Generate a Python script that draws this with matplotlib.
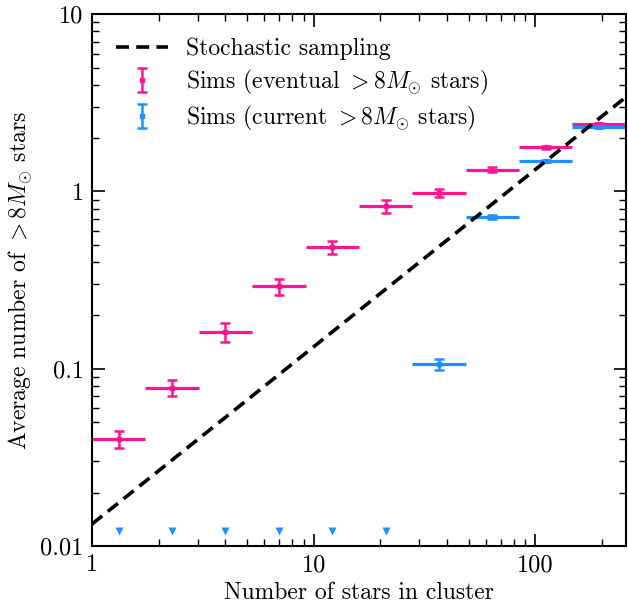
import numpy as np
import matplotlib
matplotlib.use("Agg")
import matplotlib.pyplot as plt
from matplotlib.ticker import FuncFormatter

plt.rcParams["font.family"] = "serif"
plt.rcParams["font.serif"] = ["cmr10", "DejaVu Serif"]
plt.rcParams["mathtext.fontset"] = "cm"
plt.rcParams["axes.formatter.use_mathtext"] = True

# bin edges (log spaced) and values
bin_edges = [1.0, 1.74, 3.03, 5.28, 9.19, 16.0, 27.9, 48.5, 84.4, 147.0, 256.0]
eventual = [0.040, 0.078, 0.161, 0.292, 0.485, 0.826, 0.98, 1.33, 1.78, 2.40]
eventual_err = [0.0045, 0.008, 0.019, 0.030, 0.040, 0.065, 0.055, 0.040, 0.035, 0.035]
current = [0.106, 0.72, 1.49, 2.30]
current_err = [0.008, 0.020, 0.020, 0.030]
current_bins = [6, 7, 8, 9]
upper_bins = [0, 1, 2, 3, 4, 5]
upper_level = 0.0122
stoch_coeff = 0.0133

edges = np.array(bin_edges)
centres = np.sqrt(edges[:-1] * edges[1:])
pink = "#ff1493"
blue = "#1e90ff"

fig = plt.figure(figsize=(6.28, 6.05), dpi=100)
ax = fig.add_axes([0.1465, 0.0975, 0.85, 0.879])

xs = np.logspace(0, np.log10(256), 100)
ax.plot(xs, stoch_coeff * xs, "k--", lw=2.6, dashes=(3.6, 2.0), label="Stochastic sampling", zorder=5)

ax.hlines(eventual, edges[:-1], edges[1:], color=pink, lw=2.3)
ax.errorbar(centres, eventual, yerr=eventual_err, fmt="s", ms=3, color=pink, ecolor=pink,
            elinewidth=1.8, capsize=3.5, capthick=1.8,
            label=r"Sims (eventual $>8M_{\odot}$ stars)")

cb = np.array(current_bins)
ax.hlines(current, edges[cb], edges[cb + 1], color=blue, lw=2.3)
ax.errorbar(centres[cb], current, yerr=current_err, fmt="s", ms=3, color=blue, ecolor=blue,
            elinewidth=1.8, capsize=3.5, capthick=1.8,
            label=r"Sims (current $>8M_{\odot}$ stars)")
ax.plot(centres[upper_bins], [upper_level] * len(upper_bins), "v", color=blue, ms=6, mec="none")

ax.set_xscale("log")
ax.set_yscale("log")
ax.set_xlim(1, 256)
ax.set_ylim(0.01, 10)
fmt = FuncFormatter(lambda v, p: "%g" % v)
ax.xaxis.set_major_formatter(fmt)
ax.yaxis.set_major_formatter(fmt)
ax.tick_params(which="both", direction="in", top=True, right=True, labelsize=17.5)
ax.tick_params(which="major", length=9, width=1.2, pad=6)
ax.tick_params(which="minor", length=5, width=1.0)
for s in ax.spines.values():
    s.set_linewidth(1.5)

ax.set_xlabel("Number of stars in cluster", fontsize=17, labelpad=4)
ax.set_ylabel(r"Average number of $>8M_{\odot}$ stars", fontsize=17, labelpad=4)
ax.legend(loc="upper left", frameon=False, fontsize=17, handlelength=2.2,
          labelspacing=0.3, borderaxespad=0.6)

fig.savefig("out.png", dpi=100)
